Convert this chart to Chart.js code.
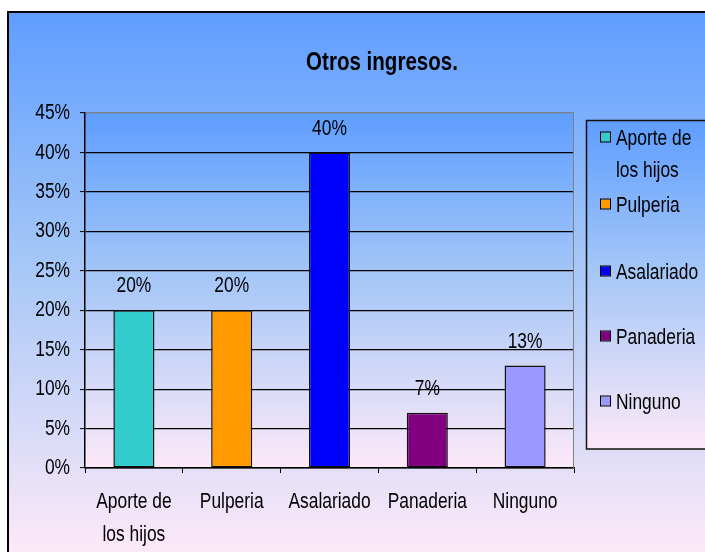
<!DOCTYPE html>
<html>
<head>
<meta charset="utf-8">
<title>Otros ingresos.</title>
<script src="https://cdn.jsdelivr.net/npm/chart.js@4/dist/chart.umd.min.js"></script>
<style>
  html, body { margin: 0; padding: 0; background: #ffffff; overflow: hidden; }
  #c { display: block; }
</style>
</head>
<body>
<canvas id="c" width="705" height="552"></canvas>
<script>
// Income sources (percent of households)
const categories = [['Aporte de', 'los hijos'], 'Pulperia', 'Asalariado', 'Panaderia', 'Ninguno'];
const shares = [20, 20, 40, 7, 13];
const barColors = ['#33CCCC', '#FF9900', '#0000FF', '#800080', '#9999FF'];
const legendLabels = [['Aporte de', 'los hijos'], ['Pulperia'], ['Asalariado'], ['Panaderia'], ['Ninguno']];
const yMax = 45;
const yStep = 5;
const chartTitle = 'Otros ingresos.';

const FONT = "'Liberation Sans', Arial, sans-serif";
const NARROW = 0.79; // horizontal squeeze giving an Arial Narrow look

const canvas = document.getElementById('c');
const ctx2d = canvas.getContext('2d');
// Draw every text run horizontally condensed around its anchor point
const rawFillText = ctx2d.fillText.bind(ctx2d);
ctx2d.fillText = function (text, x, y, maxWidth) {
  this.save();
  this.translate(x, y);
  this.scale(NARROW, 1);
  if (maxWidth !== undefined && maxWidth !== null) rawFillText(text, 0, 0, maxWidth / NARROW);
  else rawFillText(text, 0, 0);
  this.restore();
};

function vGradient(ctx, y0, y1) {
  const g = ctx.createLinearGradient(0, y0, 0, y1);
  g.addColorStop(0, '#5E9DFF');
  g.addColorStop(0.45, '#A3C6F7');
  g.addColorStop(1, '#FDE9F8');
  return g;
}

const backdrop = {
  id: 'backdrop',
  beforeDraw(chart) {
    const ctx = chart.ctx;
    const { left, top, right, bottom } = chart.chartArea;
    ctx.save();
    ctx.fillStyle = '#ffffff';
    ctx.fillRect(0, 0, chart.width, chart.height);
    // outer panel
    ctx.fillStyle = vGradient(ctx, 11, chart.height);
    ctx.fillRect(7, 11, chart.width, chart.height);
    ctx.strokeStyle = '#000000';
    ctx.lineWidth = 2;
    ctx.beginPath();
    ctx.moveTo(8, chart.height + 2);
    ctx.lineTo(8, 12);
    ctx.lineTo(chart.width + 2, 12);
    ctx.stroke();
    // plot panel
    ctx.fillStyle = vGradient(ctx, top, bottom);
    ctx.fillRect(left, top, right - left, bottom - top);
    // legend panel
    ctx.fillStyle = vGradient(ctx, 120, 449);
    ctx.fillRect(586, 120, chart.width, 329);
    ctx.lineWidth = 1.5;
    ctx.strokeStyle = '#111111';
    ctx.strokeRect(586.5, 120.5, chart.width, 328.5);
    ctx.restore();
  },
  afterDraw(chart) {
    const ctx = chart.ctx;
    const { top, right, bottom } = chart.chartArea;
    ctx.save();
    // plot frame on the right
    ctx.strokeStyle = '#808080';
    ctx.lineWidth = 1;
    ctx.beginPath();
    ctx.moveTo(Math.round(right) - 0.5, bottom);
    ctx.lineTo(Math.round(right) - 0.5, top + 0.5);
    ctx.stroke();
    // title
    ctx.fillStyle = '#000000';
    ctx.font = 'bold 26px ' + FONT;
    ctx.textAlign = 'center';
    ctx.textBaseline = 'alphabetic';
    ctx.fillText(chartTitle, 382, 70);
    // legend
    const ys = [137, 204, 271, 336, 401];
    ctx.font = '22px ' + FONT;
    ctx.textAlign = 'left';
    ctx.textBaseline = 'middle';
    legendLabels.forEach((lines, i) => {
      const y = ys[i];
      ctx.fillStyle = barColors[i];
      ctx.fillRect(601, y - 4.5, 9, 9);
      ctx.strokeStyle = '#000000';
      ctx.lineWidth = 1;
      ctx.strokeRect(600.5, y - 5, 10, 10);
      ctx.fillStyle = '#000000';
      lines.forEach((t, j) => ctx.fillText(t, 616, y + 2 + j * 32));
    });
    ctx.restore();
  }
};

const valueLabels = {
  id: 'valueLabels',
  afterDatasetsDraw(chart) {
    const ctx = chart.ctx;
    const meta = chart.getDatasetMeta(0);
    ctx.save();
    ctx.font = '22px ' + FONT;
    ctx.fillStyle = '#000000';
    ctx.textAlign = 'center';
    ctx.textBaseline = 'middle';
    meta.data.forEach((bar, i) => {
      ctx.fillText(shares[i] + '%', bar.x, bar.y - 24);
    });
    ctx.restore();
  }
};

new Chart(canvas, {
  type: 'bar',
  data: {
    labels: categories,
    datasets: [{
      data: shares,
      backgroundColor: barColors,
      borderColor: '#111111',
      borderWidth: 1.5,
      borderSkipped: false,
      categoryPercentage: 1,
      barPercentage: 0.42
    }]
  },
  options: {
    responsive: false,
    animation: false,
    devicePixelRatio: 1,
    layout: { padding: { left: 0, top: 113, right: 131, bottom: 0 } },
    plugins: {
      legend: { display: false },
      title: { display: false },
      tooltip: { enabled: false }
    },
    scales: {
      x: {
        offset: true,
        grid: { offset: true, drawOnChartArea: false, drawTicks: true, tickLength: 5, tickColor: '#000000', tickWidth: 1 },
        border: { display: true, color: '#000000', width: 1.5 },
        ticks: { color: '#000000', padding: 12, maxRotation: 0, autoSkip: false,
                 font: { family: FONT, size: 22, lineHeight: 1.5 } },
        afterFit(s) { s.height = 84; }
      },
      y: {
        min: 0,
        max: yMax,
        ticks: { stepSize: yStep, color: '#000000', padding: 10,
                 font: { family: FONT, size: 22 },
                 callback: v => v + '%' },
        grid: {
          color: c => (c.tick && c.tick.value === yMax) ? '#808080' : '#000000',
          lineWidth: 1.2,
          tickLength: 5,
          tickColor: '#000000',
          tickWidth: 1
        },
        border: { display: true, color: '#000000', width: 1.5 },
        afterFit(s) { s.width = 85; }
      }
    }
  },
  plugins: [backdrop, valueLabels]
});
</script>
</body>
</html>
